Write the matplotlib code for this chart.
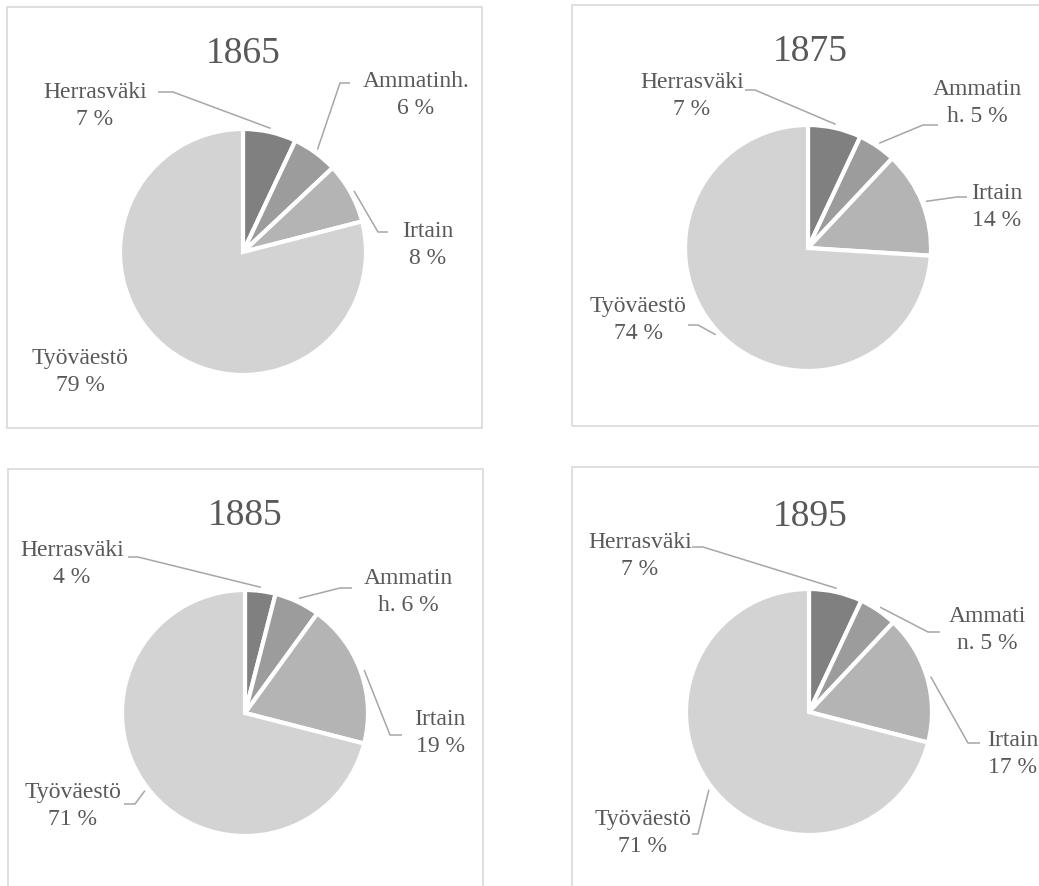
import numpy as np
import matplotlib.pyplot as plt
from matplotlib.patches import Rectangle

# Data: share of population groups (%) per census year.
years = ['1865', '1875', '1885', '1895']
groups = ['Herrasväki', 'Ammatinh.', 'Irtain', 'Työväestö']
shares_1865 = [7, 6, 8, 79]
shares_1875 = [7, 5, 14, 74]
shares_1885 = [4, 6, 19, 71]
shares_1895 = [7, 5, 17, 71]
shares = [shares_1865, shares_1875, shares_1885, shares_1895]

# Label text as wrapped in the original (name line / value line).
names_1865 = ['Herrasväki\n', 'Ammatinh.\n', 'Irtain\n', 'Työväestö\n']
names_1875 = ['Herrasväki\n', 'Ammatin\nh. ', 'Irtain\n', 'Työväestö\n']
names_1885 = ['Herrasväki\n', 'Ammatin\nh. ', 'Irtain\n', 'Työväestö\n']
names_1895 = ['Herrasväki\n', 'Ammati\nn. ', 'Irtain\n', 'Työväestö\n']
names = [names_1865, names_1875, names_1885, names_1895]

colors = ['#808080', '#9c9c9c', '#b4b4b4', '#d3d3d3']

# Layout in pixels (y measured from top of the image).
W, H = 1039, 886
boxes = [(7, 7, 482, 428), (572, 5, 1045, 426), (8, 469, 483, 895), (572, 467, 1045, 895)]
centers = [(243, 252), (808, 248), (245, 713), (809, 712)]
radius = 123
title_pos = [(243, 63), (810, 61), (245, 525), (810, 526)]
label_pos = [
    [(95, 104), (416, 93), (428, 243), (80, 370)],
    [(692, 94), (977, 101), (997, 205), (638, 318)],
    [(72, 562), (408, 590), (440, 731), (73, 804)],
    [(640, 554), (987, 628), (1013, 752), (643, 831)],
]
# leader line: start point next to label, x of the elbow (None = no line)
leaders = [
    [(158, 92, 173), (350, 83, 340), (388, 232, 378), None],
    [(745, 90, 755), (938, 125, 923), (967, 197, 957), (688, 325, 698)],
    [(128, 557, 138), (352, 588, 340), (402, 735, 390), (124, 804, 135)],
    [(692, 547, 703), (940, 632, 928), (980, 743, 968), (692, 834, 698)],
]

text_color = '#595959'
line_color = '#a6a6a6'
font = 'Liberation Serif'

fig = plt.figure(figsize=(W / 100, H / 100), dpi=100)
ax = fig.add_axes([0, 0, 1, 1])


def Y(y):
    return H - y


for k in range(len(years)):
    x0, y0, x1, y1 = boxes[k]
    ax.add_patch(Rectangle((x0, Y(y1)), x1 - x0, y1 - y0, fill=False,
                           edgecolor='#d9d9d9', linewidth=1.2))
    cx, cy = centers[k]
    ax.pie(shares[k], colors=colors, startangle=90, counterclock=False,
           center=(cx, Y(cy)), radius=radius, frame=True,
           wedgeprops=dict(edgecolor='white', linewidth=3))

    tx, ty = title_pos[k]
    ax.text(tx, Y(ty), years[k], ha='center', va='baseline',
            fontsize=27, color=text_color, family=font)

    cum = np.cumsum([0] + shares[k])
    for i in range(len(groups)):
        lx, ly = label_pos[k][i]
        ax.text(lx, Y(ly + 2), names[k][i] + f'{shares[k][i]} %', ha='center',
                va='center', fontsize=17, color=text_color, family=font,
                linespacing=1.4)
        if leaders[k][i] is None:
            continue
        mid = (cum[i] + cum[i + 1]) / 2 / 100 * 2 * np.pi
        px = cx + radius * 1.03 * np.sin(mid)
        py = cy - radius * 1.03 * np.cos(mid)
        sx, sy, ex = leaders[k][i]
        ax.plot([sx, ex, px], [Y(sy), Y(sy), Y(py)], color=line_color,
                linewidth=1.1, solid_capstyle='butt')

ax.set_xlim(0, W)
ax.set_ylim(0, H)
ax.set_aspect('auto')
ax.axis('off')

fig.savefig('out.png', dpi=100)
